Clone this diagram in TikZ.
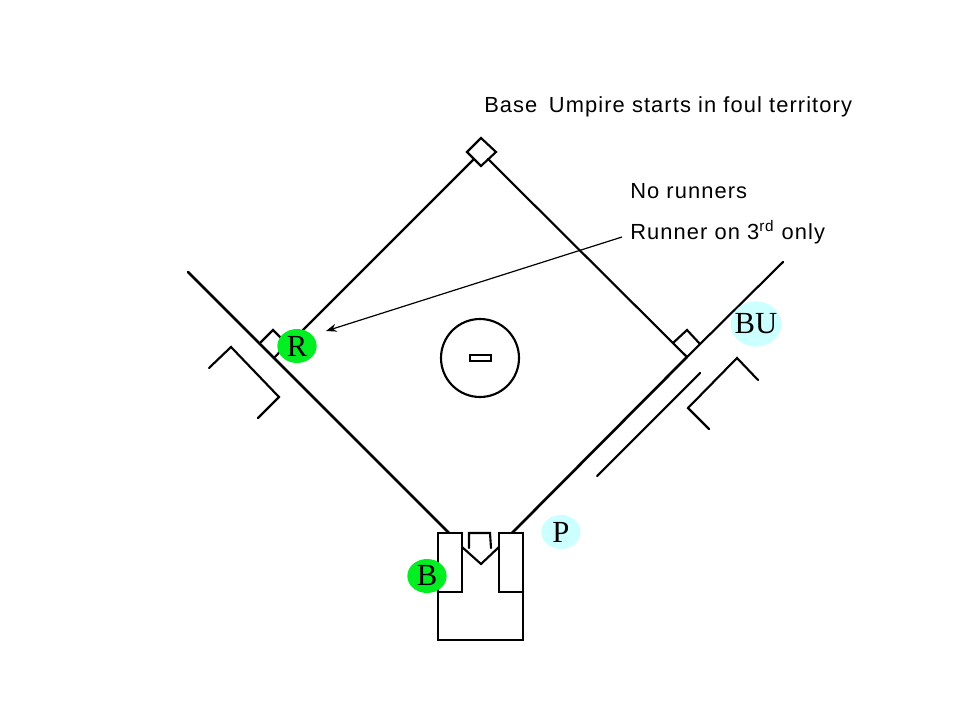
\documentclass[tikz,border=0pt]{standalone}
\usepackage{fontspec}
\setmainfont{Liberation Serif}
\newfontfamily\labelfont[LetterSpace=5]{Liberation Sans}
\usetikzlibrary{arrows.meta,shapes.geometric}
\definecolor{offense}{HTML}{00EE22}
\definecolor{fielder}{HTML}{CCFFFF}
\tikzset{
    fieldline/.style={line width=2pt,line cap=round,line join=miter},
    thinline/.style={line width=1.6pt,line cap=round,line join=miter},
    person/.style={ellipse,fill=#1,minimum width=29.5pt,minimum height=25.5pt,inner sep=0pt,font=\fontsize{23}{23}\selectfont},
    note/.style={anchor=west,inner xsep=6pt,inner ysep=0pt,font=\labelfont\fontsize{16.4}{16.4}\selectfont}
}
\begin{document}
\begin{tikzpicture}[x=0.75pt,y=-0.75pt]
    \useasboundingbox (0,0) rectangle (960,720);
    % foul lines
    \draw[fieldline] (188,272) -- (449,533);
    \draw[thinline] (783,262) -- (687,357);
    \draw[fieldline] (687,357) -- (512,533);
    % base paths
    \draw[thinline] (474,159) -- (303,330);
    \draw[thinline] (488,159) -- (687,357);
    % bases
    \draw[thinline] (481,138) -- (496,152) -- (481,166) -- (467,152) -- cycle;
    \draw[thinline] (261,342) -- (273,330) -- (287,344) -- (275,357);
    \draw[thinline] (673,343) -- (687,330) -- (700,344);
    % coach boxes and running lane
    \draw[thinline] (209,368) -- (231,347) -- (279,397) -- (258,418);
    \draw[thinline] (758,380) -- (737,358) -- (688,408) -- (709,429);
    \draw[thinline] (700,373) -- (597,476);
    % mound
    \draw[thinline] (480,358) circle (39);
    \draw[thinline] (470,355) rectangle (491,361);
    % batter boxes and plate
    \draw[fieldline] (462,533) -- (438,533) -- (438,640) -- (523,640) -- (523,533) -- (499,533) -- (499,592) -- (523,592);
    \draw[fieldline] (462,533) -- (462,592) -- (438,592);
    \draw[thinline] (462,547) -- (481,564) -- (499,547);
    \draw[thinline] (469,548) -- (469,533) -- (490,533) -- (491,548);
    % people
    \node[person=offense] (runner) at (297,346) {R};
    \node[person=offense] (batter) at (427,576) {B};
    \node[person=fielder] (pitcher) at (561,532) {P};
    \node[person=fielder,minimum width=38pt,minimum height=34pt,inner sep=-3.25pt] (baseump) at (756,324) {BU};
    % notes
    \node[note] (title) at (476,107) {Base\hspace{0.2em} Umpire starts in foul territory};
    \node[note] (norunner) at (622,191) {No runners};
    \node[note] (third) at (622,232) {Runner on 3\textsuperscript{rd} only};
    \coordinate (target) at (326,331);
    \draw[-{Stealth[length=8pt,width=6pt]},line width=0.9pt] (third.west) ++(0,5) -- (target);
\end{tikzpicture}
\end{document}
